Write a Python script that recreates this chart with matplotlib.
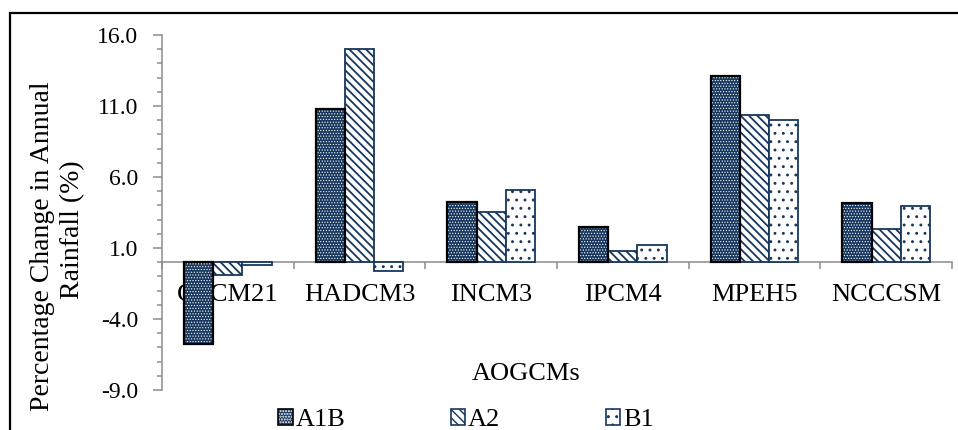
import numpy as np
import matplotlib
matplotlib.use("Agg")
from matplotlib import pyplot as plt
from matplotlib.patches import Rectangle, Patch
from matplotlib.legend_handler import HandlerTuple

models = ["GFCM21", "HADCM3", "INCM3", "IPCM4", "MPEH5", "NCCCSM"]
scenarios = ["A1B", "A2", "B1"]
a1b = [-5.76, 10.79, 4.24, 2.45, 13.11, 4.17]
a2 = [-0.93, 15.03, 3.56, 0.76, 10.39, 2.34]
b1 = [-0.22, -0.65, 5.06, 1.18, 9.99, 3.93]
y_ticks = [-9.0, -4.0, 1.0, 6.0, 11.0, 16.0]

NAVY = "#17375e"
GRAY = "#8c8c8c"
W, H = 958, 430

plt.rcParams["font.family"] = ["Liberation Serif", "DejaVu Serif"]

fig = plt.figure(figsize=(W / 100, H / 100), dpi=100)
ax = fig.add_axes([162 / W, 40 / H, (952 - 162) / W, (390 - 35) / H])

for s in ["top", "right"]:
    ax.spines[s].set_visible(False)
ax.spines["bottom"].set_position(("data", 0))
for s in ["left", "bottom"]:
    ax.spines[s].set_color(GRAY)
    ax.spines[s].set_linewidth(1.1)

x = np.arange(len(models))
bw = 1 / 4.5

# A1B: navy with white dots, black edge on top
with plt.rc_context({"hatch.linewidth": 0.5}):
    ax.bar(x - bw, a1b, bw, color=NAVY, edgecolor="white", hatch="......",
           linewidth=0, zorder=3)
    h1a = Patch(facecolor=NAVY, edgecolor="white", hatch="......", linewidth=0)
ax.bar(x - bw, a1b, bw, fill=False, edgecolor="black", linewidth=1.6, zorder=4)
with plt.rc_context({"hatch.linewidth": 1.3}):
    ax.bar(x, a2, bw, color="white", edgecolor=NAVY, hatch="\\\\\\\\",
           linewidth=1.3, zorder=3)
    h2 = Patch(facecolor="white", edgecolor=NAVY, hatch="\\\\\\\\", linewidth=1.2)
with plt.rc_context({"hatch.linewidth": 0.9}):
    ax.bar(x + bw, b1, bw, color="white", edgecolor=NAVY, hatch="..",
           linewidth=1.3, zorder=3)
    h3 = Patch(facecolor="white", edgecolor=NAVY, hatch="..", linewidth=1.2)

ax.set_xlim(-0.5, len(models) - 0.5)
ax.set_ylim(-9, 16)
ax.set_yticks(y_ticks)
ax.set_yticklabels([f"{v:.1f}" for v in y_ticks])
ax.set_yticks(np.arange(-9, 17, 1), minor=True)
ax.tick_params(axis="y", which="major", length=6.5, width=1.1, color=GRAY,
               pad=10.5, labelsize=17)
ax.tick_params(axis="y", which="minor", length=3.6, width=1.1, color=GRAY)

ax.set_xticks(x)
ax.set_xticklabels(models)
ax.set_xticks(np.arange(-0.5, len(models)), minor=True)
ax.tick_params(axis="x", which="major", length=0, pad=16, labelsize=19)
ax.tick_params(axis="x", which="minor", length=5, width=1.1, color=GRAY)

fig.text(526 / W, 1 - 374 / H, "AOGCMs", fontsize=19, ha="center", va="center")
fig.text(43 / W, 1 - 246 / H, "Percentage Change in Annual", fontsize=20,
         rotation=90, ha="center", va="center")
fig.text(73 / W, 1 - 230 / H, "Rainfall (%)", fontsize=20,
         rotation=90, ha="center", va="center")

h1 = (h1a, Patch(fill=False, edgecolor="black", linewidth=1.2))
fig.legend([h1, h2, h3], scenarios, loc="center", ncol=3, frameon=False,
           bbox_to_anchor=(466 / W, 1 - 420 / H), fontsize=19,
           handlelength=0.55, handleheight=0.55, handletextpad=0.1,
           columnspacing=4.0, borderaxespad=0,
           handler_map={tuple: HandlerTuple(ndivide=1)})

fig.patches.append(Rectangle((10 / W, -0.2), 1.2, 1.2 - 13 / H,
                             transform=fig.transFigure, fill=False,
                             edgecolor="black", linewidth=1.6))

fig.savefig("out.png", dpi=100)
